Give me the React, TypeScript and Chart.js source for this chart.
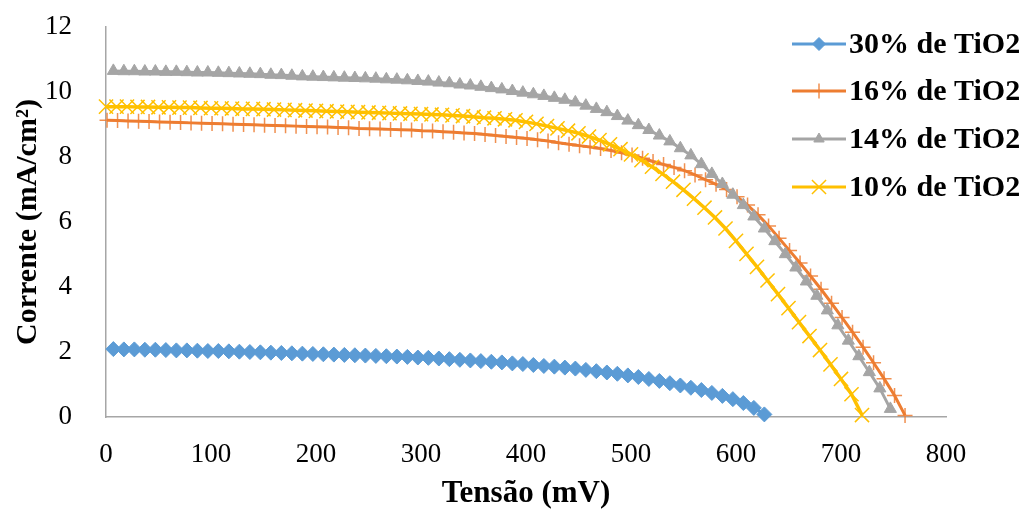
import React, { useEffect, useRef } from "react";
import { Chart, registerables } from "chart.js";
import { drawPoint } from "chart.js/helpers";

Chart.register(...registerables);

const seriesLabels = ["30% de TiO2", "16% de TiO2", "14% de TiO2", "10% de TiO2"];

const xTicks = [0, 100, 200, 300, 400, 500, 600, 700, 800];
const yTicks = [0, 2, 4, 6, 8, 10, 12];

const blueX = [7,17,27,37,47,57,67,77,87,97,107,117,127,137,147,157,167,177,187,197,207,217,227,237,247,257,267,277,287,297,307,317,327,337,347,357,367,377,387,397,407,417,427,437,447,457,467,477,487,497,507,517,527,537,547,557,567,577,587,597,607,617,627];
const blueY = [2.09,2.08,2.08,2.07,2.07,2.06,2.05,2.05,2.04,2.03,
  2.03,2.02,2.01,2.00,1.99,1.98,1.97,1.96,1.95,1.94,
  1.93,1.92,1.91,1.90,1.89,1.88,1.87,1.86,1.85,1.83,
  1.82,1.80,1.78,1.76,1.74,1.72,1.70,1.68,1.65,1.63,
  1.60,1.57,1.55,1.52,1.49,1.45,1.41,1.37,1.33,1.28,
  1.23,1.17,1.11,1.04,0.97,0.90,0.83,0.74,0.65,0.55,
  0.43,0.28,0.08];

const orangeX = [1,11,21,31,41,51,61,71,81,91,101,111,121,131,141,151,161,171,181,191,201,211,221,231,241,251,261,271,281,291,301,311,321,331,341,351,361,371,381,391,401,411,421,431,441,451,461,471,481,491,501,511,521,531,541,551,561,571,581,591,601,611,621,631,641,651,661,671,681,691,701,711,721,731,741,751,761];
const orangeY = [9.13,9.12,9.11,9.10,9.09,9.08,9.07,9.06,9.05,9.04,
  9.03,9.02,9.01,9.00,8.99,8.98,8.97,8.96,8.95,8.94,
  8.93,8.92,8.91,8.90,8.88,8.87,8.86,8.85,8.84,8.83,
  8.81,8.80,8.78,8.76,8.74,8.72,8.69,8.66,8.63,8.60,
  8.57,8.53,8.49,8.44,8.39,8.35,8.31,8.26,8.20,8.13,
  8.06,7.96,7.86,7.77,7.68,7.58,7.45,7.30,7.16,7.00,
  6.78,6.52,6.22,5.88,5.50,5.12,4.74,4.34,3.93,3.50,
  3.06,2.61,2.15,1.67,1.18,0.66,0.05];

const grayX = [7,17,27,37,47,57,67,77,87,97,107,117,127,137,147,157,167,177,187,197,207,217,227,237,247,257,267,277,287,297,307,317,327,337,347,357,367,377,387,397,407,417,427,437,447,457,467,477,487,497,507,517,527,537,547,557,567,577,587,597,607,617,627,637,647,657,667,677,687,697,707,717,727,737,747];
const grayY = [10.65,10.64,10.64,10.63,10.63,10.62,10.62,10.61,10.60,10.60,
  10.59,10.58,10.57,10.56,10.55,10.53,10.52,10.50,10.48,10.47,
  10.46,10.45,10.44,10.43,10.42,10.41,10.39,10.38,10.36,10.34,
  10.32,10.29,10.27,10.23,10.20,10.16,10.12,10.08,10.03,9.98,
  9.93,9.88,9.82,9.76,9.68,9.58,9.48,9.38,9.26,9.12,
  8.98,8.83,8.66,8.48,8.27,8.05,7.78,7.48,7.17,6.84,
  6.52,6.17,5.80,5.41,5.01,4.60,4.17,3.73,3.28,2.82,
  2.35,1.87,1.38,0.88,0.25];

const yellowX = [0,10,20,30,40,50,60,70,80,90,100,110,120,130,140,150,160,170,180,190,200,210,220,230,240,250,260,270,280,290,300,310,320,330,340,350,360,370,380,390,400,410,420,430,440,450,460,470,480,490,500,510,520,530,540,550,560,570,580,590,600,610,620,630,640,650,660,670,680,690,700,710,720];
const yellowY = [9.55,9.55,9.55,9.54,9.54,9.53,9.53,9.52,9.52,9.51,
  9.50,9.50,9.49,9.48,9.48,9.47,9.46,9.45,9.44,9.43,
  9.42,9.41,9.40,9.39,9.38,9.37,9.36,9.35,9.34,9.33,
  9.32,9.31,9.30,9.28,9.26,9.24,9.21,9.19,9.16,9.13,
  9.08,9.02,8.95,8.88,8.81,8.73,8.63,8.52,8.39,8.24,
  8.08,7.90,7.70,7.48,7.24,6.99,6.72,6.44,6.14,5.80,
  5.42,5.02,4.62,4.20,3.78,3.35,2.92,2.49,2.06,1.62,
  1.17,0.70,0.06];

const colors = ["#5b9bd5", "#ed7d31", "#a5a5a5", "#ffc000"];
const FONT = "'Liberation Serif', 'Times New Roman', serif";

const toPoints = (xs: number[], ys: number[]) => xs.map((x, i) => ({ x, y: ys[i] }));

const legendPlugin = {
  id: "customLegend",
  afterDraw(chart: any) {
    const ctx = chart.ctx;
    const rowsY = [44, 91, 139, 187];
    ctx.save();
    chart.data.datasets.forEach((ds: any, i: number) => {
      const y = rowsY[i];
      ctx.strokeStyle = ds.borderColor;
      ctx.lineWidth = 3;
      ctx.beginPath();
      ctx.moveTo(792, y);
      ctx.lineTo(846, y);
      ctx.stroke();
      ctx.fillStyle = ds.pointBackgroundColor;
      ctx.strokeStyle = ds.pointBorderColor;
      ctx.lineWidth = ds.pointBorderWidth;
      const r = ds.pointStyle === "triangle" ? 6 : ds.pointStyle === "rectRot" ? 6.5 : ds.pointRadius;
      drawPoint(ctx, { pointStyle: ds.pointStyle, radius: r, rotation: 0, borderWidth: ds.pointBorderWidth }, 819, y);
      ctx.fillStyle = "#000";
      ctx.font = `bold 30px ${FONT}`;
      ctx.textBaseline = "middle";
      ctx.textAlign = "left";
      ctx.fillText(ds.label, 849, y + 1);
    });
    ctx.restore();
  },
};

export default function App() {
  const ref = useRef<HTMLCanvasElement | null>(null);
  useEffect(() => {
    if (!ref.current) return;
    const chart = new Chart(ref.current, {
      type: "line",
      data: {
        datasets: [
          {
            label: seriesLabels[0],
            data: toPoints(blueX, blueY),
            borderColor: colors[0],
            borderWidth: 3,
            pointStyle: "rectRot",
            pointRadius: 7.5,
            pointBackgroundColor: colors[0],
            pointBorderColor: colors[0],
            pointBorderWidth: 1,
            order: 3,
            clip: false,
          },
          {
            label: seriesLabels[1],
            data: toPoints(orangeX, orangeY),
            borderColor: colors[1],
            borderWidth: 3,
            pointStyle: "cross",
            pointRadius: 7.5,
            pointBackgroundColor: colors[1],
            pointBorderColor: "rgba(237,125,49,0.85)",
            pointBorderWidth: 1.5,
            order: 2,
            clip: false,
          },
          {
            label: seriesLabels[2],
            data: toPoints(grayX, grayY),
            borderColor: colors[2],
            borderWidth: 3,
            pointStyle: "triangle",
            pointRadius: 7,
            pointBackgroundColor: colors[2],
            pointBorderColor: colors[2],
            pointBorderWidth: 1,
            order: 1,
            clip: false,
          },
          {
            label: seriesLabels[3],
            data: toPoints(yellowX, yellowY),
            borderColor: colors[3],
            borderWidth: 3.5,
            pointStyle: "crossRot",
            pointRadius: 10,
            pointBackgroundColor: colors[3],
            pointBorderColor: colors[3],
            pointBorderWidth: 1.5,
            order: 0,
            clip: false,
          },
        ] as any,
      },
      options: {
        animation: false,
        responsive: false,
        layout: { autoPadding: false, padding: { left: 0, top: 27, right: 79, bottom: 0 } },
        plugins: { legend: { display: false }, tooltip: { enabled: false } },
        elements: { line: { tension: 0 } },
        scales: {
          x: {
            type: "linear",
            min: 0,
            max: 800,
            afterBuildTicks: (s: any) => { s.ticks = xTicks.map((v) => ({ value: v })); },
            afterFit: (s: any) => { s.height = 92; s.paddingLeft = 0; s.paddingRight = 0; },
            grid: { display: false },
            border: { display: true, color: "#a6a6a6", width: 1.5 },
            ticks: { color: "#000", font: { family: FONT, size: 27 }, padding: 14, maxRotation: 0 },
            title: {
              display: true,
              text: "Tensão (mV)",
              color: "#000",
              font: { family: FONT, size: 31, weight: "bold", lineHeight: 1 },
              padding: { top: 0, bottom: 0 },
            },
          },
          y: {
            type: "linear",
            min: 0,
            max: 12,
            afterBuildTicks: (s: any) => { s.ticks = yTicks.map((v) => ({ value: v })); },
            afterFit: (s: any) => { s.width = 106; s.paddingTop = 0; s.paddingBottom = 0; },
            grid: { display: false },
            border: { display: true, color: "#a6a6a6", width: 1.5 },
            ticks: { color: "#000", font: { family: FONT, size: 27 }, padding: 26 },
            title: {
              display: true,
              text: "Corrente (mA/cm²)",
              color: "#000",
              font: { family: FONT, size: 30, weight: "bold", lineHeight: 1 },
              padding: { top: 13, bottom: 0 },
            },
          },
        },
      } as any,
      plugins: [legendPlugin],
    });
    return () => chart.destroy();
  }, []);
  return (
    <div style={{ position: "absolute", left: 0, top: 0, width: 1025, height: 509, background: "#fff" }}>
      <canvas ref={ref} width={1025} height={509} style={{ display: "block" }} />
    </div>
  );
}
